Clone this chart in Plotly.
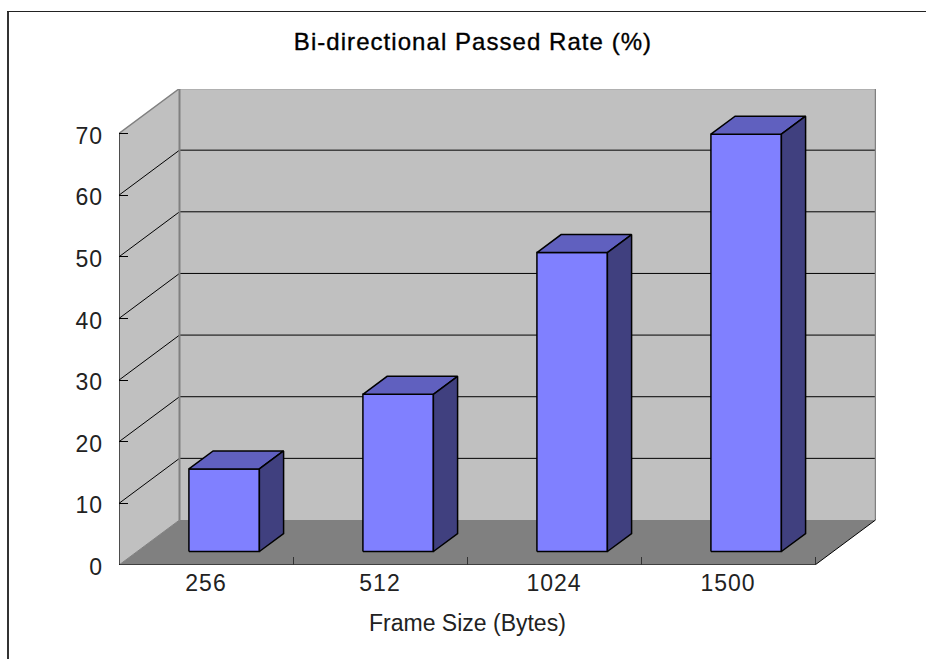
import plotly.graph_objects as go

# ---- data ----
frame_sizes = ["256", "512", "1024", "1500"]
passed_rate = [13.4, 25.5, 48.5, 67.7]
y_ticks = [0, 10, 20, 30, 40, 50, 60, 70]

# ---- oblique projection of the Excel-style 3D box, in data units ----
PX_PER_CAT = 174.0
PX_PER_UNIT = 6.164
DEPTH_X = 60.5 / PX_PER_CAT
DEPTH_Y = 45.0 / PX_PER_UNIT
BAR_W = 0.405
BAR_D0, BAR_D1 = 0.30, 0.70
N = len(frame_sizes)
Y_MAX = y_ticks[-1]

W, H = 926, 659
L, R, T, B = 119, 50, 89, 94
plot_w, plot_h = W - L - R, H - T - B


def pr(x, v, d=0.0):
    return x + d * DEPTH_X, v + d * DEPTH_Y


def poly(points, fill=None, line="black", width=1.0):
    pts = [pr(*p) for p in points]
    xs = [p[0] for p in pts]
    ys = [p[1] for p in pts]
    if fill:
        xs.append(xs[0])
        ys.append(ys[0])
    return go.Scatter(
        x=xs, y=ys, mode="lines", cliponaxis=False, hoverinfo="skip", showlegend=False,
        fill="toself" if fill else None, fillcolor=fill,
        line=dict(color=line, width=width) if line else dict(width=0),
    )


fig = go.Figure()
GREY = "#c0c0c0"
EDGE = "#808080"
# walls and floor
fig.add_trace(poly([(0, 0, 0), (0, 0, 1), (0, Y_MAX, 1), (0, Y_MAX, 0)], GREY, None))
fig.add_trace(poly([(0, 0, 1), (N, 0, 1), (N, Y_MAX, 1), (0, Y_MAX, 1)], GREY, None))
fig.add_trace(poly([(0, 0, 0), (N, 0, 0), (N, 0, 1), (0, 0, 1)], "#808080", None))
# grid lines
for v in y_ticks[1:-1]:
    fig.add_trace(poly([(0, v, 0), (0, v, 1), (N, v, 1)], None, "black", 1))
# wall edges
fig.add_trace(poly([(0, Y_MAX, 0), (0, Y_MAX, 1), (N, Y_MAX, 1), (N, 0, 1)], None, EDGE, 1.5))
fig.add_trace(poly([(0, 0, 1), (0, Y_MAX, 1)], None, EDGE, 2))
fig.add_trace(poly([(0, 0, 0), (0, 0, 1)], None, EDGE, 1))
fig.add_trace(poly([(N, 0, 0), (N, 0, 1)], None, "black", 1))
# axis lines
fig.add_trace(poly([(0, Y_MAX, 0), (0, 0, 0), (N, 0, 0)], None, "black", 1.2))

# bars
for i, v in enumerate(passed_rate):
    x0 = i + 0.5 - BAR_W / 2
    x1 = i + 0.5 + BAR_W / 2
    fig.add_trace(poly([(x0, 0, BAR_D0), (x1, 0, BAR_D0), (x1, v, BAR_D0), (x0, v, BAR_D0)],
                       "#8080ff", "black", 1.5))
    fig.add_trace(poly([(x0, v, BAR_D0), (x1, v, BAR_D0), (x1, v, BAR_D1), (x0, v, BAR_D1)],
                       "#6060bf", "black", 1.5))
    fig.add_trace(poly([(x1, 0, BAR_D0), (x1, 0, BAR_D1), (x1, v, BAR_D1), (x1, v, BAR_D0)],
                       "#40407f", "black", 1.5))

TICK_FONT = dict(family="Liberation Sans", size=23, color="#222222")

fig.update_layout(
    width=W, height=H, autosize=False,
    margin=dict(l=L, r=R, t=T, b=B, pad=0),
    paper_bgcolor="white", plot_bgcolor="white", showlegend=False,
    title=dict(text="Bi-directional Passed Rate (%)", x=473 / W, y=1 - 42 / H,
               xref="container", yref="container", xanchor="center", yanchor="middle",
               font=dict(family="Liberation Sans", size=24, color="black")),
    xaxis=dict(
        range=[0, plot_w / PX_PER_CAT], showgrid=False, zeroline=False, showline=False,
        tickmode="array", tickvals=[i + 0.5 for i in range(N)], ticktext=frame_sizes,
        ticks="", ticklabelstandoff=2, tickfont=TICK_FONT,
        minor=dict(tickmode="array", tickvals=list(range(1, N + 1)), ticks="inside",
                   ticklen=8, tickwidth=1, tickcolor="#333333", showgrid=False),
    ),
    yaxis=dict(
        range=[0, plot_h / PX_PER_UNIT], showgrid=False, zeroline=False, showline=False,
        tickmode="array", tickvals=y_ticks, ticks="inside", ticklen=9, tickwidth=1,
        tickcolor="black", tickfont=TICK_FONT, ticklabelstandoff=15, ticklabelshift=2,
    ),
    annotations=[dict(text="Frame Size (Bytes)", xref="x", yref="paper", x=N / 2,
                      y=-58 / plot_h, xanchor="center", yanchor="middle", showarrow=False,
                      font=dict(family="Liberation Sans", size=23, color="#222222"))],
    shapes=[
        dict(type="line", xref="paper", yref="paper", x0=(8 - L) / plot_w, x1=(8 - L) / plot_w,
             y0=(H - B - 11) / plot_h, y1=(H - B - H) / plot_h, line=dict(color="#333333", width=2)),
        dict(type="line", xref="paper", yref="paper", x0=(7 - L) / plot_w, x1=(W - L) / plot_w,
             y0=(H - B - 11.5) / plot_h, y1=(H - B - 11.5) / plot_h, line=dict(color="#222222", width=1)),
    ],
)

POST = """
document.body.style.margin='0';document.body.style.overflow='hidden';
document.querySelectorAll('.gtitle').forEach(e=>{e.style.letterSpacing='1.05px';e.style.stroke='black';e.style.strokeWidth='0.35px';});
document.querySelectorAll('.xtick text, .ytick text').forEach(e=>{e.style.letterSpacing='1px';});
"""
fig.write_html("out.html", post_script=POST, config={"displayModeBar": False})
